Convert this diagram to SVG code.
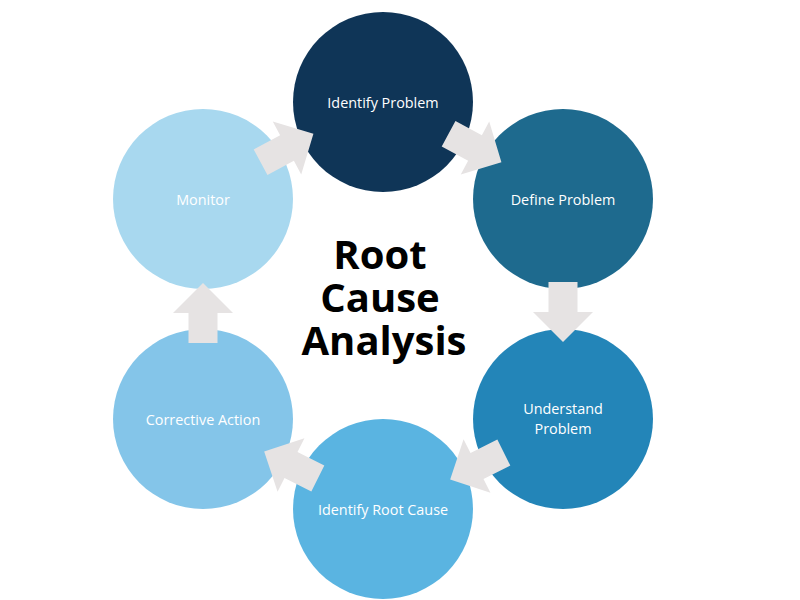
<svg xmlns="http://www.w3.org/2000/svg" width="800" height="600" viewBox="0 0 800 600">
<style>
.lbl{font-family:"Open Sans","Liberation Sans",sans-serif;font-size:14.4px;fill:#ffffff;text-anchor:middle}
.title{font-family:"Open Sans","Liberation Sans",sans-serif;font-size:40px;font-weight:bold;fill:#000000;text-anchor:middle}
.arr{fill:#e6e3e3}
</style>
<defs>
<path id="arrow" d="M-30,-14.5 L0,-14.5 L0,-30 L30,0 L0,30 L0,14.5 L-30,14.5 Z"/>
</defs>
<rect width="800" height="600" fill="#ffffff"/>
<g id="identify-problem"><circle cx="383" cy="102" r="90" fill="#0f3557"/><text class="lbl" x="383" y="108">Identify Problem</text></g>
<g id="define-problem"><circle cx="563" cy="199" r="90" fill="#1e6a8e"/><text class="lbl" x="563" y="205">Define Problem</text></g>
<g id="understand-problem"><circle cx="563" cy="419" r="90" fill="#2385b8"/><text class="lbl" x="563" y="414">Understand<tspan x="563" y="434">Problem</tspan></text></g>
<g id="identify-root-cause"><circle cx="383" cy="509" r="90" fill="#5ab4e1"/><text class="lbl" x="383" y="515">Identify Root Cause</text></g>
<g id="corrective-action"><circle cx="203" cy="419" r="90" fill="#84c5e9"/><text class="lbl" x="203" y="425">Corrective Action</text></g>
<g id="monitor"><circle cx="203" cy="199" r="90" fill="#a8d8ef"/><text class="lbl" x="203" y="205">Monitor</text></g>
<g id="connectors" class="arr">
<use href="#arrow" transform="translate(475,148) rotate(28.3)"/>
<use href="#arrow" transform="translate(563,312) rotate(90)"/>
<use href="#arrow" transform="translate(477,466) rotate(153.4)"/>
<use href="#arrow" transform="translate(291,465) rotate(206.6)"/>
<use href="#arrow" transform="translate(203,313) rotate(-90)"/>
<use href="#arrow" transform="translate(287,148) rotate(-28.3)"/>
</g>
<g id="title">
<text class="title" x="380" y="269">Root<tspan x="380" y="312">Cause</tspan><tspan x="384" y="355">Analysis</tspan></text>
</g>
</svg>
